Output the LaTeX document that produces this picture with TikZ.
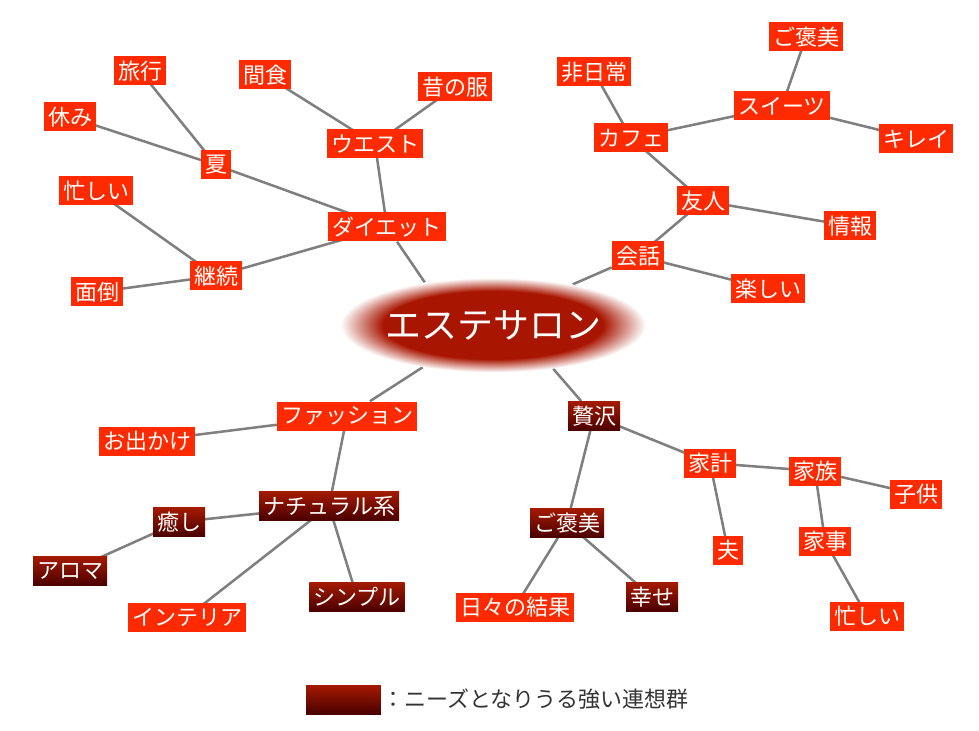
\documentclass[tikz,border=0pt]{standalone}
\usepackage{fontspec}
\setmainfont{Noto Sans CJK JP}
\usetikzlibrary{backgrounds,shapes.geometric}
\definecolor{hot}{HTML}{FF2A00}
\definecolor{deeptop}{HTML}{A41A00}
\definecolor{deepbot}{HTML}{4A0000}
\definecolor{core}{HTML}{A81500}
\definecolor{wire}{HTML}{7F7F7F}
\definecolor{ink}{HTML}{333333}
\pgfdeclareradialshading{glow}{\pgfpoint{0bp}{0bp}}{color(0bp)=(core); color(18bp)=(core); color(25bp)=(white); color(50bp)=(white)}
\tikzset{
  word/.style={fill=hot,text=white,inner xsep=3pt,inner ysep=0pt,
    minimum height=21.75pt,font=\fontsize{16.5}{17}\selectfont},
  strong/.style={word,top color=deeptop,bottom color=deepbot},
  hub/.style={ellipse,shading=glow,text=white,inner sep=0pt,
    minimum width=225pt,minimum height=71pt,font=\fontsize{27}{28}\selectfont},
  wire/.style={draw=wire,line width=1.9pt},
  note/.style={text=ink,inner sep=0pt,anchor=west,font=\fontsize{16.5}{17}\selectfont}
}
\begin{document}
\begin{tikzpicture}[x=0.75pt,y=-0.75pt]
  \useasboundingbox (0,0) rectangle (979,731);
  % centre
  \node[hub] (salon) at (493,325) {エステサロン};
  % diet branch
  \node[word] (diet) at (387,227) {ダイエット};
  \node[word] (waist) at (375,144) {ウエスト};
  \node[word] (snack) at (265,75) {間食};
  \node[word] (oldclothes) at (455,87) {昔の服};
  \node[word] (summer) at (216,165) {夏};
  \node[word] (trip) at (140,71) {旅行};
  \node[word] (rest) at (70,117) {休み};
  \node[word] (keep) at (216,276) {継続};
  \node[word] (busyA) at (96,191) {忙しい};
  \node[word] (bother) at (97,292) {面倒};
  % talk branch
  \node[word] (talk) at (638,256) {会話};
  \node[word] (fun) at (768,289) {楽しい};
  \node[word] (friend) at (703,201) {友人};
  \node[word] (info) at (850,226) {情報};
  \node[word] (cafe) at (631,138) {カフェ};
  \node[word] (unusual) at (594,72) {非日常};
  \node[word] (sweets) at (782,106) {スイーツ};
  \node[word] (rewardA) at (806,37) {ご褒美};
  \node[word] (pretty) at (916,139) {キレイ};
  % fashion branch
  \node[word] (fashion) at (347,416) {ファッション};
  \node[word] (outing) at (147,441) {お出かけ};
  \node[strong] (natural) at (329,506) {ナチュラル系};
  \node[strong] (heal) at (179,522) {癒し};
  \node[strong] (aroma) at (70,571) {アロマ};
  \node[word] (interior) at (187,617) {インテリア};
  \node[strong] (simple) at (357,597) {シンプル};
  % luxury branch
  \node[strong] (luxury) at (594,416) {贅沢};
  \node[strong] (rewardB) at (567,523) {ご褒美};
  \node[word] (results) at (515,607) {日々の結果};
  \node[strong] (happy) at (652,597) {幸せ};
  \node[word] (budget) at (710,463) {家計};
  \node[word] (husband) at (728,550) {夫};
  \node[word] (family) at (815,471) {家族};
  \node[word] (kids) at (916,494) {子供};
  \node[word] (chores) at (825,541) {家事};
  \node[word] (busyB) at (867,616) {忙しい};
  % legend
  \node[strong,minimum width=56pt] (legend) at (343.5,699.5) {};
  \node[note] (legendtext) at ([xshift=1pt]legend.east) {：ニーズとなりうる強い連想群};
  \begin{pgfonlayer}{background}
    \foreach \ang/\b in {148/diet,27/talk,211/fashion,324/luxury}
      \draw[wire] (salon.\ang) -- (\b);
    \foreach \a/\b in {diet/waist,waist/snack,waist/oldclothes,
      diet/summer,summer/trip,summer/rest,diet/keep,keep/busyA,keep/bother,
      talk/fun,talk/friend,friend/info,friend/cafe,cafe/unusual,
      cafe/sweets,sweets/rewardA,sweets/pretty,
      fashion/outing,fashion/natural,natural/heal,heal/aroma,
      natural/interior,natural/simple,
      luxury/rewardB,rewardB/results,rewardB/happy,luxury/budget,
      budget/husband,budget/family,family/kids,family/chores,chores/busyB}
      \draw[wire] (\a.center) -- (\b.center);
  \end{pgfonlayer}
\end{tikzpicture}
\end{document}
